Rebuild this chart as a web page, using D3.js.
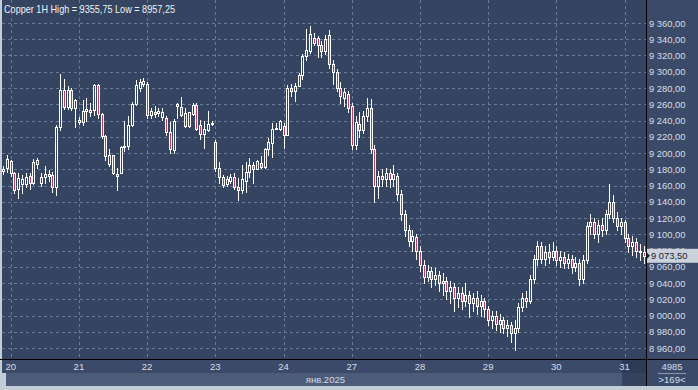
<!DOCTYPE html>
<html>
<head>
<meta charset="utf-8">
<script src="https://cdn.jsdelivr.net/npm/d3@7"></script>
<style>
body { margin: 0; background: #c4ccd8; }
svg { display: block; font-family: "Liberation Sans", Arial, sans-serif; }
</style>
</head>
<body>
<svg id="chart" width="698" height="390"></svg>
<script>
// hourly bars, 20..31 jan 2025
var opens = [
  9178,9182,9190,9175,9156,9162,9162,9172,9163,9187,
  9163,9170,9174,9173,9158,9232,9277,9257,9278,9255,
  9241,9238,9252,9253,9253,9284,9248,9221,9187,9197,
  9174,9176,9207,9209,9235,9260,9280,9285,9285,9247,
  9250,9249,9244,9243,9226,9204,9258,9257,9233,9233,
  9248,9259,9234,9223,9228,9236,9214,9181,9170,9162,
  9165,9170,9158,9154,9165,9177,9185,9180,9188,9183,
  9205,9212,9229,9229,9233,9222,9280,9276,9282,9296,
  9319,9325,9341,9341,9333,9325,9345,9310,9300,9280,
  9268,9272,9258,9210,9236,9228,9245,9255,9205,9160,
  9172,9168,9175,9168,9172,9150,9125,9105,9092,9096,
  9080,9062,9048,9055,9045,9050,9040,9042,9030,9035,
  9022,9028,9018,9025,9015,9022,9012,9018,9008,8995,
  9000,8990,8995,8985,8988,8978,8985,9010,9022,9018,
  9045,9070,9085,9070,9078,9072,9080,9068,9072,9065,
  9070,9060,9065,9045,9068,9110,9115,9100,9112,9105,
  9125,9140,9120,9110,9115,9095,9085,9090,9080,9078];
var closes = [
  9180,9193,9175,9155,9169,9168,9170,9163,9189,9191,
  9171,9174,9172,9158,9232,9277,9257,9277,9255,9265,
  9238,9252,9254,9251,9284,9248,9221,9196,9198,9175,
  9172,9207,9209,9235,9260,9284,9287,9289,9247,9252,
  9248,9252,9251,9226,9205,9240,9260,9247,9249,9250,
  9259,9229,9223,9229,9236,9237,9181,9170,9161,9168,
  9170,9158,9154,9168,9177,9185,9180,9190,9183,9205,
  9214,9229,9231,9239,9222,9280,9276,9282,9296,9319,
  9327,9347,9335,9333,9325,9340,9310,9300,9280,9270,
  9275,9255,9210,9238,9228,9245,9255,9205,9160,9172,
  9168,9175,9168,9174,9150,9125,9105,9092,9098,9080,
  9062,9048,9055,9045,9050,9040,9042,9030,9035,9022,
  9028,9018,9025,9015,9022,9012,9018,9008,8995,9000,
  8990,8995,8985,8988,8978,8985,9010,9022,9018,9045,
  9070,9085,9070,9078,9072,9080,9068,9072,9065,9070,
  9060,9065,9045,9068,9110,9115,9100,9112,9105,9125,
  9140,9120,9110,9115,9095,9085,9090,9080,9078,9073.5];
var highs = [
  9184,9198,9192,9177,9175,9173,9176,9176,9193,9194,
  9175,9184,9179,9177,9234,9297,9291,9282,9280,9267,
  9244,9265,9268,9262,9285,9285,9249,9222,9205,9198,
  9181,9209,9240,9245,9263,9290,9291,9292,9287,9255,
  9258,9256,9256,9245,9238,9242,9261,9269,9255,9251,
  9261,9261,9241,9239,9252,9240,9216,9189,9173,9172,
  9174,9175,9169,9185,9189,9194,9189,9191,9196,9206,
  9218,9237,9237,9241,9237,9284,9285,9286,9298,9322,
  9353,9355.75,9348,9344,9338,9345,9352,9315,9304,9288,
  9280,9276,9262,9245,9250,9252,9268,9266,9210,9178,
  9180,9182,9180,9185,9176,9155,9130,9112,9105,9100,
  9085,9068,9062,9060,9058,9055,9052,9048,9042,9040,
  9035,9035,9040,9030,9028,9030,9025,9022,9012,9006,
  9005,9002,8998,8995,8992,8995,9015,9028,9030,9050,
  9075,9092,9090,9085,9088,9090,9085,9080,9078,9076,
  9074,9072,9070,9075,9115,9125,9120,9118,9120,9130,
  9162,9148,9128,9120,9118,9100,9098,9095,9088,9085];
var lows = [
  9174,9177,9172,9151,9145,9151,9158,9156,9162,9181,
  9160,9163,9166,9152,9148,9228,9254,9254,9253,9232,
  9236,9235,9240,9246,9247,9243,9218,9191,9184,9174,
  9154,9175,9203,9205,9233,9259,9276,9283,9243,9243,
  9244,9246,9241,9222,9200,9200,9243,9245,9232,9232,
  9247,9228,9217,9206,9227,9234,9178,9163,9158,9159,
  9163,9156,9142,9151,9152,9170,9163,9180,9181,9182,
  9198,9195,9229,9228,9206,9222,9270,9264,9282,9291,
  9315,9323,9333,9318,9318,9322,9305,9285,9276,9262,
  9258,9250,9205,9205,9220,9225,9240,9200,9140,9145,
  9160,9160,9158,9160,9142,9118,9098,9085,9080,9070,
  9055,9040,9042,9035,9038,9030,9025,9020,9015,9005,
  9010,9008,9012,8998,9005,9002,9000,8998,8988,8985,
  8982,8980,8978,8975,8968,8957.25,8980,9005,9010,9015,
  9040,9062,9065,9062,9065,9068,9062,9060,9058,9058,
  9052,9055,9038,9040,9065,9100,9095,9090,9098,9100,
  9120,9115,9105,9100,9090,9078,9075,9072,9068,9065];

var dayLabels = ["20","21","22","23","24","27","28","29","30","31"];
var dayStarts = [2,20,38,56,74,92,110,128,146,164];
var priceTicks = d3.range(8960, 9361, 20);
var title = "Copper 1H High = 9355,75 Low = 8957,25";
var monthLabel = "янв.2025";
var lastPrice = 9073.5;
var barCount = "4985";
var visibleBars = ">169<";

var W = 698, H = 390, plotR = 646, plotB = 359;
var bg = "#344461", panel = "#3a4a68", grid = "#6a7a99", downFill = "#b83f5c", txt = "#d9dee7";

var loc = d3.formatLocale({decimal: ",", thousands: " ", grouping: [3], currency: ["", ""]});
var fmt = loc.format(",.2f");

var svg = d3.select("#chart");

var x = d3.scaleLinear().domain([0, opens.length - 1]).range([3.1, 643.5]);
var y = d3.scaleLinear().domain([8960, 9360]).range([348, 23]);

// panels
svg.append("rect").attr("x", 2).attr("y", 0).attr("width", plotR - 2).attr("height", plotB).attr("fill", bg);
svg.append("rect").attr("x", plotR).attr("y", 0).attr("width", W - plotR).attr("height", plotB).attr("fill", panel);
svg.append("rect").attr("x", 2).attr("y", plotB).attr("width", plotR - 2).attr("height", 14).attr("fill", panel);
svg.append("rect").attr("x", 6).attr("y", 373).attr("width", plotR - 6).attr("height", 13).attr("fill", "#4c5b78");
svg.append("rect").attr("x", plotR).attr("y", plotB).attr("width", W - plotR).attr("height", 27).attr("fill", panel);
svg.append("rect").attr("x", 622).attr("y", plotB + 1).attr("width", plotR - 622).attr("height", 26)
  .attr("fill", "#26324a").attr("opacity", 0.6);

// grid
svg.append("g").selectAll("line").data(priceTicks).enter().append("line")
  .attr("x1", 2).attr("x2", plotR)
  .attr("y1", function(d) { return Math.round(y(d)) + 0.5; })
  .attr("y2", function(d) { return Math.round(y(d)) + 0.5; })
  .attr("stroke", grid).attr("stroke-dasharray", "3,3");
svg.append("g").selectAll("line").data(dayStarts).enter().append("line")
  .attr("y1", 0).attr("y2", plotB)
  .attr("x1", function(d) { return Math.round(x(d)) + 0.5; })
  .attr("x2", function(d) { return Math.round(x(d)) + 0.5; })
  .attr("stroke", grid).attr("stroke-dasharray", "3,3");

// candles
var bars = d3.range(opens.length).map(function(i) {
  return { i: i, o: opens[i], h: highs[i], l: lows[i], c: closes[i] };
});
var cg = svg.append("g").selectAll("g").data(bars).enter().append("g");
cg.append("line")
  .attr("x1", function(d) { return Math.round(x(d.i)) + 0.5; })
  .attr("x2", function(d) { return Math.round(x(d.i)) + 0.5; })
  .attr("y1", function(d) { return Math.round(y(d.h)); })
  .attr("y2", function(d) { return Math.round(y(d.l)) + 1; })
  .attr("stroke", "#fff");
cg.append("rect")
  .attr("x", function(d) { return Math.round(x(d.i)) - 0.5; })
  .attr("y", function(d) { return Math.round(y(Math.max(d.o, d.c))) + 0.5; })
  .attr("width", 2)
  .attr("height", function(d) { return Math.max(1, Math.round(y(Math.min(d.o, d.c))) - Math.round(y(Math.max(d.o, d.c)))); })
  .attr("fill", function(d) { return d.c < d.o ? downFill : bg; })
  .attr("stroke", "#fff");

// separators
svg.append("line").attr("x1", plotR + 0.5).attr("x2", plotR + 0.5).attr("y1", 0).attr("y2", 386).attr("stroke", "#000");
svg.append("line").attr("x1", 0).attr("x2", W).attr("y1", plotB + 0.5).attr("y2", plotB + 0.5).attr("stroke", "#000");

// right axis labels (the one under the price box is clipped by the box, as in the original)
var ly = y(lastPrice);
svg.append("clipPath").attr("id", "axclip").append("rect")
  .attr("x", plotR).attr("y", 0).attr("width", W - plotR).attr("height", ly - 7);
svg.append("g").selectAll("text").data(priceTicks).enter().append("text")
  .attr("x", 649).attr("y", function(d) { return y(d) + 3.5; })
  .attr("clip-path", function(d) { return Math.abs(y(d) - ly) < 9 ? "url(#axclip)" : null; })
  .attr("fill", txt).style("font-size", "9.4px")
  .text(function(d) { return fmt(d); });

// last price box
svg.append("rect").attr("x", 647).attr("y", ly - 7).attr("width", 51).attr("height", 14).attr("fill", "#ccd2dc");
svg.append("path").attr("d", "M647," + (ly - 3) + "L650," + ly + "L647," + (ly + 3) + "Z").attr("fill", "#222");
svg.append("text").attr("x", 651).attr("y", ly + 3.5).attr("fill", "#1a2030")
  .style("font-size", "9.4px").text(fmt(lastPrice));

// day labels
svg.append("g").selectAll("text").data(dayStarts).enter().append("text")
  .attr("x", function(d) { return x(d); }).attr("y", 370)
  .attr("text-anchor", "middle").attr("fill", txt)
  .style("font-size", "9.5px")
  .text(function(d, i) { return dayLabels[i]; });
svg.append("text").attr("x", 345).attr("y", 383).attr("text-anchor", "end")
  .attr("fill", txt).style("font-size", "9.5px").text(monthLabel);

// corner
svg.append("text").attr("x", 672).attr("y", 370).attr("text-anchor", "middle")
  .attr("fill", txt).style("font-size", "9.5px").text(barCount);
svg.append("line").attr("x1", 658).attr("x2", 686).attr("y1", 373.5).attr("y2", 373.5).attr("stroke", "#8a96ac");
svg.append("text").attr("x", 672).attr("y", 383).attr("text-anchor", "middle")
  .attr("fill", txt).style("font-size", "9.5px").text(visibleBars);

// title
svg.append("text").attr("x", 4).attr("y", 13).attr("fill", "#f0f2f6")
  .style("font-size", "10.5px").attr("textLength", 171).attr("lengthAdjust", "spacingAndGlyphs").text(title);
</script>
</body>
</html>
